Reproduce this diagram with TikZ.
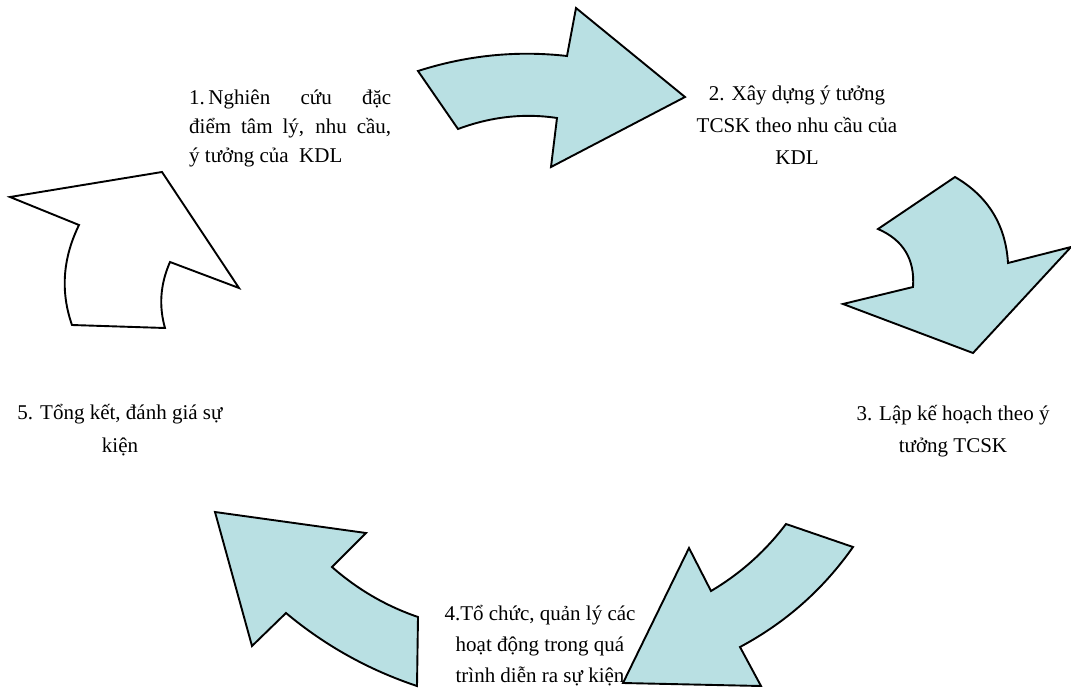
\documentclass[tikz,border=0pt]{standalone}
\usepackage{fontspec}
\setmainfont{Liberation Serif}
\definecolor{arrowteal}{RGB}{185,224,227}

\begin{document}
\begin{tikzpicture}[x=1pt,y=-1pt,
    tealarrow/.style={draw=black,line width=1.9pt,fill=arrowteal,line join=miter},
    whitearrow/.style={draw=black,line width=1.9pt,fill=white,line join=miter},
    steptext/.style={font=\fontsize{21}{32}\selectfont,align=center,inner sep=0pt,anchor=base}]
    \useasboundingbox (0,0) rectangle (1071,688);
    \node[steptext,text width=202pt,align=justify,anchor=base west,font=\fontsize{21}{29}\selectfont] (s1) at (189,104) {1.\,Nghiên cứu đặc\linebreak điểm tâm lý, nhu cầu,\linebreak ý tưởng của\ \ KDL};
    \node[steptext] (s2) at (797,164) {2. Xây dựng ý tưởng\\TCSK theo nhu cầu của\\KDL};
    \node[steptext] (s3) at (953,452) {3. Lập kế hoạch theo ý\\tưởng TCSK};
    \node[steptext,font=\fontsize{21}{31}\selectfont] (s4) at (540,682) {4.Tổ chức, quản lý các\\hoạt động trong quá\\trình diễn ra sự kiện};
    \node[steptext,font=\fontsize{21}{33}\selectfont] (s5) at (120,452) {5. Tổng kết, đánh giá sự\\kiện};
    % arrows
    \draw[tealarrow] (418,71) .. controls (467,55.3) and (516.7,50.3) .. (567,56) -- (576,8) -- (685,97) -- (551,167)
        -- (557,118) .. controls (524,113) and (491,116.7) .. (458,129) -- cycle;
    \draw[tealarrow] (955,177) .. controls (988,196.2) and (1005.7,224.9) .. (1008,263) -- (1071,247) -- (973,353) -- (843,304)
        -- (913,287) .. controls (915,259.3) and (903.3,240) .. (878,229) -- cycle;
    \draw[tealarrow] (786,524) -- (853,547) .. controls (823.3,589.3) and (785.7,622.6) .. (740,647) -- (761,686) -- (623,683)
        -- (689,548) -- (711,591) .. controls (740.4,573.6) and (765.4,551.3) .. cycle;
    \draw[tealarrow] (215,512) -- (366,533) -- (332,567) .. controls (357.5,589.4) and (386.1,606.1) .. (418,617) -- (417,686)
        .. controls (368.7,669.9) and (325,645.6) .. (286,613) -- (252,646) -- cycle;
    \draw[whitearrow] (10,197) -- (162,172) -- (239,288) -- (170,262) .. controls (160.3,284) and (158.7,306) .. (165,328)
        -- (72,325) .. controls (60.3,291.7) and (62.7,258.3) .. (79,225) -- cycle;
\end{tikzpicture}
\end{document}
